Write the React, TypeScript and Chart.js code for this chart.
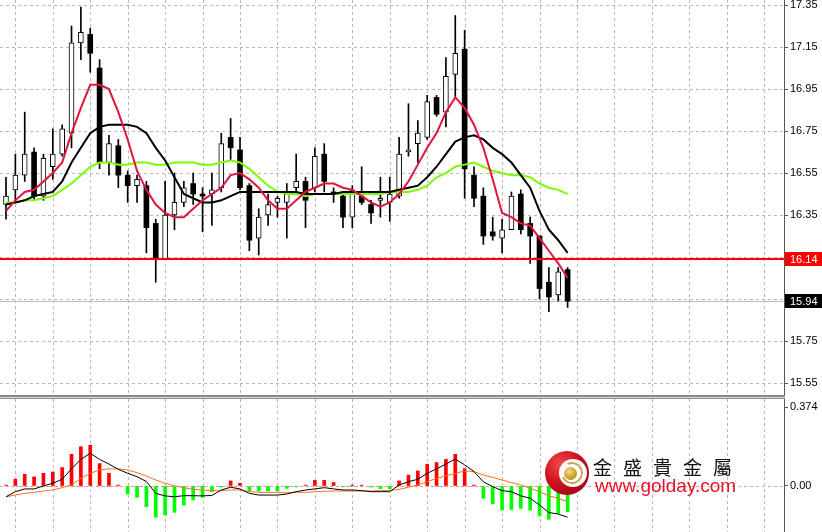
import React, { useEffect, useRef } from "react";
import { Chart, registerables } from "chart.js";
Chart.register(...registerables);

// ---------- price candles (one per bar) ----------
const opens = [
  16.40, 16.47, 16.54, 16.65, 16.44, 16.58, 16.64, 16.74, 17.17, 17.21,
  17.05, 16.60, 16.68, 16.54, 16.49, 16.49, 16.31, 16.14, 16.35, 16.41,
  16.50, 16.45, 16.45, 16.48, 16.72, 16.66, 16.49, 16.24, 16.35, 16.41,
  16.41, 16.48, 16.51, 16.48, 16.64, 16.46, 16.44, 16.34, 16.44, 16.40,
  16.42, 16.41, 16.44, 16.65, 16.69, 16.72, 16.91, 16.84, 17.02, 17.14,
  16.54, 16.44, 16.27, 16.24, 16.28, 16.45, 16.31, 16.25, 16.03, 15.97, 16.09,
];
const highs = [
  16.53, 16.64, 16.84, 16.67, 16.64, 16.76, 16.78, 17.25, 17.34, 17.24,
  17.09, 16.73, 16.71, 16.56, 16.54, 16.51, 16.33, 16.51, 16.55, 16.51,
  16.55, 16.48, 16.55, 16.74, 16.81, 16.72, 16.50, 16.38, 16.45, 16.44,
  16.50, 16.64, 16.53, 16.67, 16.69, 16.48, 16.46, 16.49, 16.58, 16.42,
  16.53, 16.53, 16.72, 16.88, 16.80, 16.92, 16.92, 17.10, 17.30, 17.23,
  16.58, 16.48, 16.34, 16.33, 16.46, 16.47, 16.34, 16.25, 16.10, 16.10, 16.10,
];
const lows = [
  16.33, 16.41, 16.51, 16.42, 16.42, 16.52, 16.63, 16.67, 17.09, 17.03,
  16.57, 16.54, 16.48, 16.41, 16.41, 16.17, 16.03, 16.14, 16.28, 16.39,
  16.40, 16.27, 16.30, 16.46, 16.61, 16.47, 16.18, 16.16, 16.30, 16.34,
  16.24, 16.46, 16.29, 16.46, 16.46, 16.41, 16.29, 16.29, 16.40, 16.31,
  16.34, 16.32, 16.43, 16.63, 16.60, 16.71, 16.82, 16.77, 16.91, 16.43,
  16.39, 16.21, 16.23, 16.17, 16.28, 16.26, 16.12, 15.95, 15.89, 15.94, 15.91,
];
const closes = [
  16.44, 16.54, 16.64, 16.44, 16.62, 16.64, 16.76, 17.17, 17.22, 17.12,
  16.60, 16.69, 16.54, 16.49, 16.52, 16.29, 16.14, 16.35, 16.41, 16.48,
  16.45, 16.44, 16.47, 16.69, 16.67, 16.48, 16.23, 16.34, 16.40, 16.43,
  16.45, 16.51, 16.42, 16.63, 16.51, 16.45, 16.34, 16.47, 16.41, 16.36,
  16.43, 16.45, 16.64, 16.66, 16.74, 16.89, 16.83, 17.01, 17.12, 16.57,
  16.43, 16.25, 16.25, 16.28, 16.44, 16.28, 16.25, 16.00, 15.96, 16.08, 15.94,
];

// ---------- moving averages ----------
const maFast = [
  16.37, 16.42, 16.46, 16.47, 16.51, 16.55, 16.60, 16.74, 16.86, 16.97,
  16.97, 16.95, 16.84, 16.71, 16.56, 16.47, 16.40, 16.36, 16.34, 16.34,
  16.38, 16.42, 16.45, 16.48, 16.54, 16.55, 16.52, 16.48, 16.42, 16.38,
  16.38, 16.42, 16.46, 16.48, 16.50, 16.50, 16.48, 16.47, 16.44, 16.41,
  16.39, 16.41, 16.45, 16.51, 16.59, 16.67, 16.74, 16.84, 16.91, 16.86,
  16.78, 16.67, 16.52, 16.36, 16.34, 16.31, 16.30, 16.24, 16.18, 16.12, 16.05,
];
const maMid = [
  16.40, 16.41, 16.42, 16.44, 16.45, 16.46, 16.51, 16.60, 16.67, 16.74,
  16.77, 16.78, 16.78, 16.78, 16.77, 16.74, 16.67, 16.61, 16.53, 16.45,
  16.43, 16.41, 16.41, 16.42, 16.44, 16.46, 16.46, 16.46, 16.46, 16.46,
  16.46, 16.46, 16.45, 16.45, 16.45, 16.45, 16.46, 16.46, 16.46, 16.46,
  16.46, 16.46, 16.47, 16.48, 16.49, 16.53, 16.58, 16.64, 16.70, 16.72,
  16.73, 16.71, 16.67, 16.64, 16.60, 16.54, 16.48, 16.37, 16.28, 16.23, 16.17,
];
const maSlow = [
  16.41, 16.41, 16.42, 16.42, 16.43, 16.44, 16.47, 16.50, 16.54, 16.58,
  16.60, 16.60, 16.59, 16.59, 16.60, 16.60, 16.59, 16.59, 16.60, 16.60,
  16.60, 16.59, 16.59, 16.60, 16.61, 16.60, 16.57, 16.53, 16.49, 16.46,
  16.45, 16.45, 16.44, 16.45, 16.45, 16.45, 16.45, 16.45, 16.45, 16.45,
  16.45, 16.46, 16.46, 16.46, 16.47, 16.49, 16.53, 16.55, 16.58, 16.59,
  16.60, 16.58, 16.56, 16.55, 16.54, 16.54, 16.53, 16.50, 16.48, 16.47, 16.45,
];

// ---------- MACD panel ----------
const macdHist = [
  0.004, 0.032, 0.055, 0.043, 0.060, 0.066, 0.087, 0.150, 0.186, 0.193,
  0.106, 0.060, 0.004, -0.038, -0.054, -0.098, -0.148, -0.137, -0.125, -0.090,
  -0.066, -0.054, -0.027, -0.005, 0.024, 0.013, -0.024, -0.024, -0.024, -0.024,
  -0.011, -0.004, 0.004, 0.027, 0.027, 0.016, -0.004, 0.004, 0.004, -0.005,
  -0.013, -0.013, 0.024, 0.051, 0.071, 0.103, 0.111, 0.126, 0.150, 0.082,
  0.004, -0.058, -0.085, -0.114, -0.111, -0.106, -0.114, -0.142, -0.158, -0.130, -0.122,
];
const macdLine = [
  -0.051, -0.027, -0.014, -0.014, 0.000, 0.013, 0.032, 0.081, 0.126, 0.155,
  0.126, 0.104, 0.079, 0.060, 0.044, 0.021, -0.035, -0.047, -0.051, -0.046,
  -0.046, -0.047, -0.045, -0.019, -0.006, -0.014, -0.035, -0.043, -0.043, -0.043,
  -0.038, -0.027, -0.019, -0.014, -0.008, -0.014, -0.019, -0.019, -0.022, -0.027,
  -0.027, -0.027, 0.005, 0.020, 0.032, 0.060, 0.081, 0.104, 0.128, 0.100,
  0.068, 0.020, -0.003, -0.022, -0.027, -0.047, -0.058, -0.090, -0.126, -0.133, -0.148,
];
const signalLine = [
  -0.051, -0.043, -0.035, -0.030, -0.024, -0.019, -0.008, 0.005, 0.036, 0.060,
  0.076, 0.081, 0.081, 0.076, 0.063, 0.047, 0.028, 0.013, 0.000, -0.008,
  -0.016, -0.019, -0.022, -0.022, -0.019, -0.019, -0.027, -0.030, -0.030, -0.032,
  -0.032, -0.030, -0.030, -0.027, -0.025, -0.024, -0.024, -0.024, -0.024, -0.024,
  -0.022, -0.022, -0.016, -0.006, 0.005, 0.020, 0.036, 0.047, 0.060, 0.071,
  0.068, 0.052, 0.041, 0.028, 0.016, 0.005, -0.011, -0.027, -0.047, -0.058, -0.074,
];

// ---------- levels & ticks ----------
const levelPrice = 16.14;
const bidPrice = 15.94;
const macdZero = 0;
const priceTicks = [17.35, 17.15, 16.95, 16.75, 16.55, 16.35, 16.15, 15.95, 15.75, 15.55];
const macdTicks = [0.374, 0];
const macdGridValues = [0];
const gridBars = [1, 5, 9, 13, 17, 21, 25, 29, 33, 37, 41, 45, 49, 53, 57, 61, 65, 69, 73, 77, 81];

// view window (bars) and value windows
const X_MIN = -0.641;
const X_MAX = 83.12;
const PRICE_MIN = 15.493;
const PRICE_MAX = 17.374;
const MACD_MIN = -0.218;
const MACD_MAX = 0.412;

const GRID = "#b8b8b8";
const AXIS = "#555555";
const FONT_FAMILY = "'Liberation Sans', Arial, sans-serif";

const idx = opens.map((_, i) => i);

function xScale() {
  return {
    type: "linear" as const,
    min: X_MIN,
    max: X_MAX,
    offset: false,
    afterBuildTicks: (s: any) => {
      s.ticks = gridBars.map((v) => ({ value: v }));
    },
    afterFit: (s: any) => {
      s.height = 0;
      s.paddingLeft = 0;
      s.paddingRight = 0;
    },
    ticks: { display: false },
    grid: { display: false, offset: false },
    border: { display: false },
  };
}

function makeGridPlugin(yValues: number[]) {
  return {
    id: "dashGrid",
    beforeDatasetsDraw(chart: any) {
      const { ctx, chartArea: a, scales } = chart;
      ctx.save();
      ctx.strokeStyle = GRID;
      ctx.lineWidth = 1;
      ctx.setLineDash([3, 3]);
      ctx.beginPath();
      gridBars.forEach((b) => {
        const px = Math.round(scales.x.getPixelForValue(b)) + 0.5;
        if (px > a.left && px < a.right) {
          ctx.moveTo(px, a.top);
          ctx.lineTo(px, a.bottom);
        }
      });
      yValues.forEach((v) => {
        const py = Math.round(scales.y.getPixelForValue(v)) + 0.5;
        ctx.moveTo(a.left, py);
        ctx.lineTo(a.right, py);
      });
      ctx.stroke();
      ctx.restore();
    },
  };
}

const priceLevelsPlugin = {
  id: "priceLevels",
  beforeDatasetsDraw(chart: any) {
    const { ctx, chartArea: a, scales } = chart;
    const yb = Math.round(scales.y.getPixelForValue(bidPrice)) + 0.5;
    ctx.save();
    ctx.strokeStyle = "#bdbdbd";
    ctx.lineWidth = 1;
    ctx.beginPath();
    ctx.moveTo(a.left, yb);
    ctx.lineTo(a.right, yb);
    ctx.stroke();
    ctx.restore();
  },
  afterDatasetsDraw(chart: any) {
    const { ctx, chartArea: a, scales } = chart;
    const yl = Math.round(scales.y.getPixelForValue(levelPrice));
    ctx.save();
    ctx.strokeStyle = "#ff0000";
    ctx.lineWidth = 2;
    ctx.beginPath();
    ctx.moveTo(a.left, yl);
    ctx.lineTo(a.right, yl);
    ctx.stroke();
    ctx.restore();
  },
  afterDraw(chart: any) {
    const { ctx, chartArea: a, scales } = chart;
    const tag = (v: number, bg: string) => {
      const yy = Math.round(scales.y.getPixelForValue(v));
      ctx.save();
      ctx.fillStyle = bg;
      ctx.fillRect(a.right + 1, yy - 7, 37, 14);
      ctx.fillStyle = "#ffffff";
      ctx.font = `11px ${FONT_FAMILY}`;
      ctx.textBaseline = "middle";
      ctx.textAlign = "left";
      ctx.fillText(v.toFixed(2), a.right + 6, yy + 0.5);
      ctx.restore();
    };
    tag(levelPrice, "#ff0000");
    tag(bidPrice, "#000000");
  },
};

const zeroLevelPlugin = {
  id: "zeroLevel",
  beforeDatasetsDraw(chart: any) {
    const { ctx, scales } = chart;
    const yz = Math.round(scales.y.getPixelForValue(macdZero)) + 0.5;
    const x0 = scales.x.getPixelForValue(0);
    const x1 = scales.x.getPixelForValue(opens.length - 1);
    ctx.save();
    ctx.strokeStyle = "#ff8a8a";
    ctx.setLineDash([2, 3]);
    ctx.lineWidth = 1;
    ctx.beginPath();
    ctx.moveTo(x0, yz);
    ctx.lineTo(x1, yz);
    ctx.stroke();
    ctx.restore();
  },
};

function yAxis(min: number, max: number, ticks: number[], fmt: (v: number) => string) {
  return {
    type: "linear",
    position: "right",
    min,
    max,
    afterBuildTicks: (s: any) => {
      s.ticks = ticks.map((v) => ({ value: v }));
    },
    afterFit: (s: any) => {
      s.width = 38;
      s.paddingTop = 0;
      s.paddingBottom = 0;
    },
    grid: { drawOnChartArea: false, color: AXIS, tickColor: AXIS, tickLength: 4, lineWidth: 1 },
    border: { display: true, color: AXIS, width: 1 },
    ticks: {
      padding: 2,
      color: "#000",
      autoSkip: false,
      font: { family: FONT_FAMILY, size: 11 },
      callback: (v: any) => fmt(Number(v)),
    },
  } as any;
}

export default function App() {
  const topRef = useRef<HTMLCanvasElement>(null);
  const botRef = useRef<HTMLCanvasElement>(null);

  useEffect(() => {
    const wickData = idx.map((i) => ({ x: i, y: [lows[i], highs[i]] }));
    const bullData = idx
      .filter((i) => closes[i] >= opens[i])
      .map((i) => ({ x: i, y: [opens[i], closes[i]] }));
    const bearData = idx
      .filter((i) => closes[i] < opens[i])
      .map((i) => ({ x: i, y: [opens[i], closes[i]] }));
    const line = (arr: number[]) => arr.map((v, i) => ({ x: i, y: v }));

    const top = new Chart(topRef.current as HTMLCanvasElement, {
      type: "line",
      data: {
        datasets: [
          { type: "bar", data: wickData as any, backgroundColor: "#000", barThickness: 1, grouped: false, order: 4 } as any,
          {
            type: "bar", data: bullData as any, backgroundColor: "#ffffff", borderColor: "#000000",
            borderWidth: 1, borderSkipped: false, barThickness: 5, grouped: false, order: 3,
          } as any,
          { type: "bar", data: bearData as any, backgroundColor: "#000000", borderWidth: 0, barThickness: 5, grouped: false, order: 3 } as any,
          { type: "line", data: line(maSlow), borderColor: "#7cfc00", borderWidth: 2, pointRadius: 0, tension: 0, order: 2 } as any,
          { type: "line", data: line(maMid), borderColor: "#000000", borderWidth: 2, pointRadius: 0, tension: 0, order: 1 } as any,
          { type: "line", data: line(maFast), borderColor: "#e0143c", borderWidth: 2, pointRadius: 0, tension: 0, order: 0 } as any,
        ],
      },
      options: {
        responsive: false,
        maintainAspectRatio: false,
        animation: false,
        events: [],
        layout: { padding: 0 },
        plugins: { legend: { display: false }, tooltip: { enabled: false } },
        scales: {
          x: xScale() as any,
          y: yAxis(PRICE_MIN, PRICE_MAX, priceTicks, (v) => v.toFixed(2)),
        },
      },
      plugins: [makeGridPlugin(priceTicks), priceLevelsPlugin],
    });

    const bot = new Chart(botRef.current as HTMLCanvasElement, {
      type: "line",
      data: {
        datasets: [
          {
            type: "bar",
            data: line(macdHist) as any,
            backgroundColor: macdHist.map((v) => (v >= 0 ? "#ff0000" : "#00ff00")),
            barThickness: 3,
            grouped: false,
            order: 2,
          } as any,
          { type: "line", data: line(signalLine), borderColor: "#ff7020", borderWidth: 1, pointRadius: 0, tension: 0, order: 1 } as any,
          { type: "line", data: line(macdLine), borderColor: "#000000", borderWidth: 1, pointRadius: 0, tension: 0, order: 0 } as any,
        ],
      },
      options: {
        responsive: false,
        maintainAspectRatio: false,
        animation: false,
        events: [],
        layout: { padding: 0 },
        plugins: { legend: { display: false }, tooltip: { enabled: false } },
        scales: {
          x: xScale() as any,
          y: yAxis(MACD_MIN, MACD_MAX, macdTicks, (v) => (v === 0 ? "0.00" : v.toFixed(3))),
        },
      },
      plugins: [makeGridPlugin(macdGridValues), zeroLevelPlugin],
    });

    return () => {
      top.destroy();
      bot.destroy();
    };
  }, []);

  return (
    <div style={{ position: "absolute", left: 0, top: 0, width: 822, height: 532, background: "#fff", overflow: "hidden" }}>
      <canvas ref={topRef} width={822} height={395} style={{ position: "absolute", left: 0, top: 0, width: 822, height: 395 }} />
      <div style={{ position: "absolute", left: 0, top: 395, width: 785, height: 2, background: "#8a8a8a" }} />
      <div style={{ position: "absolute", left: 0, top: 397, width: 785, height: 1, background: "#dcdcdc" }} />
      <div style={{ position: "absolute", left: 0, top: 398, width: 785, height: 1, background: "#8a8a8a" }} />
      <canvas ref={botRef} width={822} height={133} style={{ position: "absolute", left: 0, top: 399, width: 822, height: 133 }} />

      {/* logo */}
      <div style={{
        position: "absolute", left: 545, top: 451, width: 44, height: 44, borderRadius: "50%",
        background: "radial-gradient(circle at 35% 30%, #f24a4a 0%, #cc1020 45%, #8c0012 100%)",
      }} />
      <div style={{ position: "absolute", left: 559, top: 459, width: 28, height: 28, borderRadius: "50%", background: "#fff" }} />
      <div style={{
        position: "absolute", left: 561, top: 462, width: 22, height: 22, borderRadius: "50%", boxSizing: "border-box",
        border: "2.5px solid #c9a448", borderLeftColor: "transparent", transform: "rotate(20deg)",
      }} />
      <div style={{
        position: "absolute", left: 564, top: 467, width: 13, height: 13, borderRadius: "50%",
        background: "radial-gradient(circle at 40% 35%, #f3dc7a 0%, #c49c34 60%, #8c6a1a 100%)",
      }} />
      <div style={{
        position: "absolute", left: 593, top: 457, fontFamily: "'Noto Sans CJK TC', 'Noto Sans CJK SC', sans-serif",
        fontSize: 19, lineHeight: "19px", letterSpacing: 11, color: "#111", whiteSpace: "nowrap",
      }}>金盛貴金屬</div>
      <div style={{
        position: "absolute", left: 595, top: 476, fontFamily: "'Liberation Sans', Arial, sans-serif",
        fontSize: 19, lineHeight: "19px", color: "#e8102a", whiteSpace: "nowrap",
      }}>www.golday.com</div>
    </div>
  );
}
